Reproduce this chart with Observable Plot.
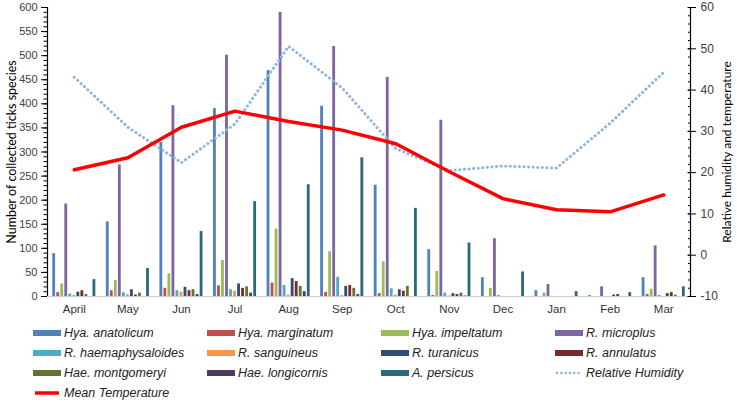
<!DOCTYPE html>
<html>
<head>
<meta charset="utf-8">
<script src="https://cdn.jsdelivr.net/npm/d3@7"></script>
<script src="https://cdn.jsdelivr.net/npm/@observablehq/plot@0.6"></script>
<style>
  body { margin: 0; background: #fff; }
  #wrap { position: relative; width: 737px; height: 403px; overflow: hidden; }
  #legend .item { position: absolute; height: 20px; display: flex; align-items: center;
    font-family: "Liberation Sans Narrow", "Liberation Sans", sans-serif; font-style: italic;
    font-size: 12.5px; color: #222; white-space: nowrap; }
  #legend .sw { width: 28px; height: 6px; margin-right: 3px; flex: none; }
</style>
</head>
<body>
<div id="wrap"><div id="legend"></div></div>
<script>
const months = ["April","May","Jun","Jul","Aug","Sep","Oct","Nov","Dec","Jan","Feb","Mar"];
const species = ["Hya. anatolicum","Hya. marginatum","Hya. impeltatum","R. microplus",
  "R. haemaphysaloides","R. sanguineus","R. turanicus","R. annulatus",
  "Hae. montgomeryi","Hae. longicornis","A. persicus"];
const colors = ["#4F81BD","#C0504D","#9BBB59","#8064A2","#4BACC6","#F79646",
  "#2C4D75","#772C2A","#5F7530","#4D3B62","#276A7C"];

const anatolicum       = [89,155,320,390,469,395,231,97,39,12,2,39];
const marginatum       = [8,12,17,22,28,8,6,2,0,0,0,4];
const impeltatum       = [26,33,47,75,140,93,72,52,17,7,0,15];
const microplus        = [192,273,396,501,590,519,455,366,120,25,20,105];
const haemaphysaloides = [5,8,12,14,23,40,16,7,2,0,0,2];
const sanguineus       = [2,4,9,11,3,2,3,1,0,0,0,0];
const turanicus        = [9,14,19,26,37,21,14,6,0,0,3,6];
const annulatus        = [12,3,12,17,31,23,11,4,0,0,4,8];
const montgomeryi      = [4,7,14,20,21,17,21,7,0,0,0,3];
const longicornis      = [0,0,4,7,10,4,0,1,0,0,0,0];
const persicus         = [35,58,135,197,232,288,183,111,51,10,8,20];
const seriesValues = [anatolicum, marginatum, impeltatum, microplus, haemaphysaloides,
  sanguineus, turanicus, annulatus, montgomeryi, longicornis, persicus];

const humidity    = [43.1,31,22.4,31.8,50.6,40.5,25.8,20.5,21.6,21.1,32,44.3];
const temperature = [20.7,23.6,31,34.9,32.4,30.3,27,20.2,13.7,11,10.5,14.6];

const leftTicks = d3.range(0, 601, 50);
const leftMinor = d3.range(0, 601, 10);
const rightTicks = d3.range(-10, 61, 10);
const rightMinor = d3.range(-10, 61, 2);

const leftTitle = "Number of collected ticks species";
const rightTitle = "Relative humidity and temperature";

// secondary axis (-10..60) mapped onto primary (0..600)
const toLeft = v => (v + 10) * 600 / 70;
const fromLeft = y => y * 70 / 600 - 10;

const GROUP = 0.826, SLOT = GROUP / 11, BAR = SLOT * 0.7;

const barMarks = species.map((s, k) =>
  Plot.rectY(months.map((m, i) => ({i, v: seriesValues[k][i]})), {
    x1: d => d.i - GROUP / 2 + k * SLOT + (SLOT - BAR) / 2,
    x2: d => d.i - GROUP / 2 + k * SLOT + (SLOT + BAR) / 2,
    y1: 0, y2: "v", fill: colors[k]
  })
);

const hum = months.map((m, i) => ({i, v: humidity[i]}));
const tem = months.map((m, i) => ({i, v: temperature[i]}));

const narrow = "'Liberation Sans Narrow', 'Liberation Sans', sans-serif";

const chart = Plot.plot({
  width: 737, height: 321,
  marginLeft: 47, marginRight: 47, marginTop: 7, marginBottom: 25,
  x: {domain: [-0.5, 11.5]},
  y: {domain: [0, 600]},
  style: {fontFamily: narrow, fontSize: "12px", color: "#404040", background: "#fff", overflow: "visible"},
  marks: [
    Plot.ruleY([0], {stroke: "#d0d0d0", strokeWidth: 1.2}),
    ...barMarks,
    Plot.line(hum, {x: "i", y: d => toLeft(d.v), stroke: "#8EB4E3", strokeWidth: 3,
      strokeDasharray: "0.1 4.5", strokeLinecap: "round"}),
    Plot.line(tem, {x: "i", y: d => toLeft(d.v), stroke: "#FF0000", strokeWidth: 3.5,
      strokeLinejoin: "round"}),
    // x axis labels
    Plot.axisX({ticks: d3.range(12), tickFormat: i => months[i], tickSize: 0, tickPadding: 8,
      fontSize: 11.5, label: null, fill: "#333"}),
    // left axis
    Plot.ruleX([-0.5], {y1: 0, y2: 600, stroke: "#000", strokeWidth: 1.2}),
    Plot.axisY({anchor: "left", ticks: leftTicks, tickSize: 6, tickPadding: 4, fontSize: 11,
      label: null, stroke: "#000", fill: "#404040"}),
    Plot.axisY({anchor: "left", ticks: leftMinor, tickSize: 3.5, tickFormat: () => "", label: null, stroke: "#000"}),
    // right axis
    Plot.ruleX([11.5], {y1: 0, y2: 600, stroke: "#000", strokeWidth: 1.2}),
    Plot.axisY({anchor: "right", ticks: rightTicks.map(toLeft), tickFormat: d => String(Math.round(fromLeft(d))),
      tickSize: 5, tickPadding: 5, fontSize: 12, label: null, stroke: "#000", fill: "#404040"}),
    Plot.axisY({anchor: "right", ticks: rightTicks.map(toLeft), tickSize: 3.5, dx: -3.5,
      tickFormat: () => "", label: null, stroke: "#000"}),
    Plot.axisY({anchor: "right", ticks: rightMinor.map(toLeft), tickSize: 3, dx: -3,
      tickFormat: () => "", label: null, stroke: "#000"}),
    // axis titles
    Plot.text([leftTitle], {frameAnchor: "left", rotate: -90, dx: -36, fontSize: 12.5,
      textAnchor: "middle", fontFamily: "Lato, sans-serif", fill: "#000"}),
    Plot.text([rightTitle], {frameAnchor: "right", rotate: -90, dx: 37, fontSize: 12,
      textAnchor: "middle", fontFamily: "Lato, sans-serif", fill: "#000"})
  ]
});
const wrap = document.getElementById("wrap");
wrap.insertBefore(chart, wrap.firstChild);

// legend
const legend = document.getElementById("legend");
const items = species.map((s, k) => ({label: s, type: "bar", color: colors[k]}))
  .concat([{label: "Relative Humidity", type: "dot", color: "#8EB4E3"},
           {label: "Mean Temperature", type: "line", color: "#FF0000"}]);
items.forEach((it, n) => {
  const col = n % 4, row = Math.floor(n / 4);
  const div = document.createElement("div");
  div.className = "item";
  div.style.left = (33 + col * 174) + "px";
  div.style.top = (323 + row * 20) + "px";
  let sw;
  if (it.type === "bar") {
    sw = document.createElement("div");
    sw.className = "sw";
    sw.style.background = it.color;
  } else {
    sw = document.createElementNS("http://www.w3.org/2000/svg", "svg");
    sw.setAttribute("width", 28); sw.setAttribute("height", 6);
    sw.style.marginRight = "3px";
    const ln = document.createElementNS("http://www.w3.org/2000/svg", "line");
    ln.setAttribute("x1", 2); ln.setAttribute("x2", 26); ln.setAttribute("y1", 3); ln.setAttribute("y2", 3);
    ln.setAttribute("stroke", it.color);
    if (it.type === "dot") {
      ln.setAttribute("stroke-width", 2.5); ln.setAttribute("stroke-dasharray", "0.1 4.2");
      ln.setAttribute("stroke-linecap", "round");
    } else {
      ln.setAttribute("stroke-width", 3.5);
    }
    sw.appendChild(ln);
  }
  div.appendChild(sw);
  const t = document.createElement("span");
  t.textContent = it.label;
  div.appendChild(t);
  legend.appendChild(div);
});
</script>
</body>
</html>
